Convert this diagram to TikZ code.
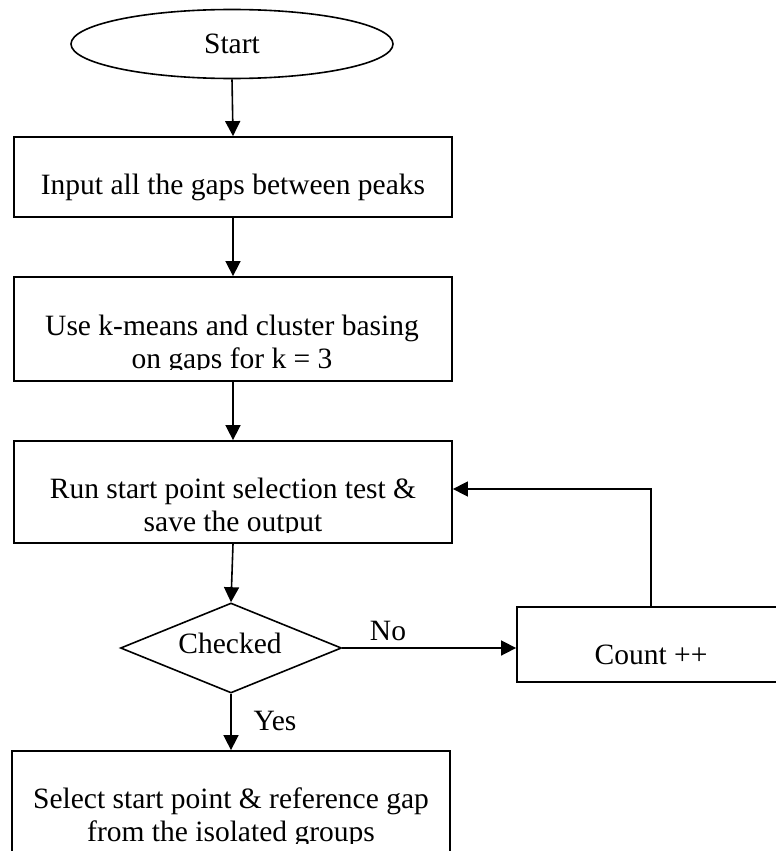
\documentclass[tikz,border=0pt]{standalone}
\usepackage{fontspec}
\setmainfont{Liberation Serif}
\usetikzlibrary{shapes.geometric,arrows.meta}
\begin{document}
\begin{tikzpicture}[x=1pt,y=-1pt,
  box/.style={draw,line width=1.8pt,rectangle,inner sep=0pt},
  txt/.style={anchor=base,inner sep=0pt,font=\fontsize{29.5}{33}\selectfont},
  arr/.style={line width=1.6pt,-{Triangle[length=15pt,width=15pt]}},
  ]
\useasboundingbox (0,0) rectangle (776,851);
\clip (0,0) rectangle (776,851);

% shapes
\node[ellipse,draw,line width=1.6pt,minimum width=322pt,minimum height=69pt,inner sep=0pt] (start) at (232,44) {};
\node[box,minimum width=438pt,minimum height=80pt] (b1) at (233,177) {};
\node[box,minimum width=438pt,minimum height=104pt] (b2) at (233,329) {};
\node[box,minimum width=438pt,minimum height=102pt] (b3) at (233,492) {};
\node[diamond,draw,line width=1.6pt,minimum width=221pt,minimum height=90pt,inner sep=0pt] (dec) at (231,648) {};
\node[box,minimum width=268pt,minimum height=75pt] (count) at (651,644.5) {};
\node[box,minimum width=438pt,minimum height=120pt] (bot) at (231,811) {};

% texts
\node[txt] (tstart) at (232,54) {Start};
\node[txt] (t1) at (233,194) {Input all the gaps between peaks};
\node[txt] (t2a) at (232,335) {Use k-means and cluster basing};
\begin{scope}
  \clip (14,277) rectangle (452,369.5);
  \node[txt] (t2b) at (232,368) {on gaps for k = 3};
\end{scope}
\node[txt] (t3a) at (233,498) {Run start point selection test \&};
\begin{scope}
  \clip (14,441) rectangle (452,532.5);
  \node[txt] (t3b) at (233,531) {save the output};
\end{scope}
\node[txt] (tchk) at (230,653) {Checked};
\node[txt] (tcount) at (651,664) {Count ++};
\node[txt] (t4a) at (231,808) {Select start point \& reference gap};
\begin{scope}
  \clip (12,751) rectangle (450,843.5);
  \node[txt] (t4b) at (231,841) {from the isolated groups};
\end{scope}
\node[txt] (tno) at (388,640) {No};
\node[txt] (tyes) at (275,730) {Yes};

% connectors
\draw[arr] (start.south) -- (b1.north);
\draw[arr] (b1.south) -- (b2.north);
\draw[arr] (b2.south) -- (b3.north);
\draw[arr] (b3.south) -- (dec.north);
\draw[arr] (dec.east) -- (dec.east -| count.west);
\draw[arr] (dec.south) -- (bot.north);
\draw[arr] (count.north) |- ([yshift=3pt]b3.east);
\end{tikzpicture}
\end{document}
